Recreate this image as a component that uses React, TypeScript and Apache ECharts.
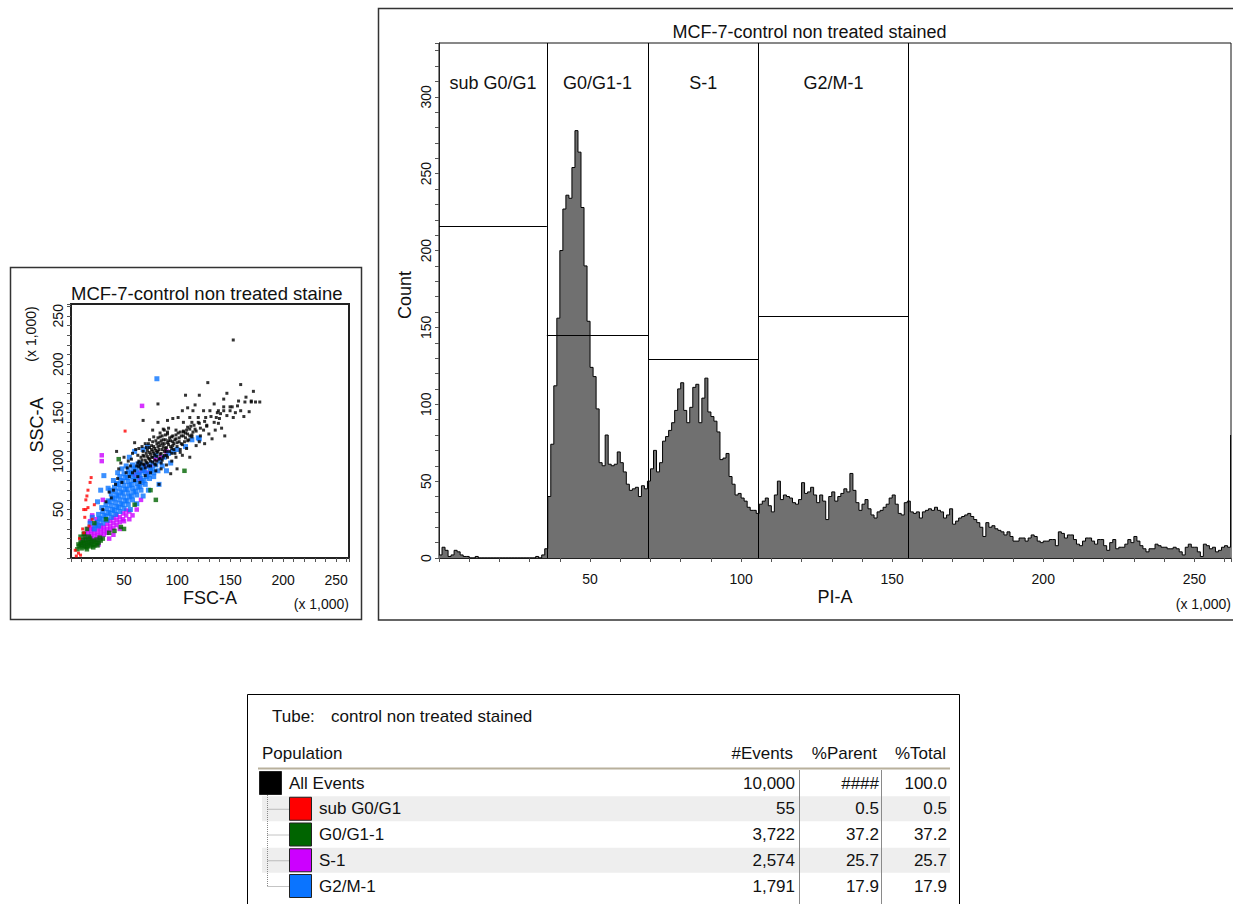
import React, { useEffect, useRef } from "react";
import * as echarts from "echarts";

// ---------- PI-A histogram (count per 1,000-unit bin, starting at 0) ----------
const BIN_WIDTH = 1;
const piCounts = [
  2, 7, 5, 1, 2, 5, 4, 2, 1, 1,
  0, 0, 1, 0, 0, 0, 0, 0, 0, 0,
  0, 0, 0, 0, 0, 0, 0, 0, 0, 0,
  0, 0, 1, 0, 2, 6, 40, 74, 112, 156,
  200, 227, 236, 234, 254, 278, 264, 228, 190, 154,
  124, 118, 97, 62, 60, 80, 61, 60, 61, 69,
  62, 56, 48, 44, 45, 46, 40, 47, 45, 50,
  58, 70, 56, 62, 76, 79, 83, 88, 96, 110,
  114, 96, 88, 98, 111, 113, 88, 104, 117, 95,
  92, 89, 82, 64, 65, 68, 53, 48, 41, 42,
  39, 37, 33, 31, 31, 29, 35, 37, 39, 34,
  30, 41, 50, 38, 41, 40, 39, 36, 35, 38,
  49, 42, 43, 46, 41, 36, 41, 37, 25, 40,
  43, 37, 40, 42, 45, 43, 55, 44, 36, 31,
  35, 38, 32, 28, 26, 30, 31, 33, 35, 39,
  41, 35, 29, 28, 36, 37, 30, 29, 30, 26,
  30, 31, 32, 31, 33, 31, 30, 26, 28, 32,
  22, 24, 26, 27, 28, 29, 27, 25, 23, 20,
  14, 23, 20, 21, 19, 18, 17, 15, 17, 14,
  11, 11, 13, 13, 11, 13, 15, 14, 11, 10,
  11, 11, 12, 12, 8, 17, 16, 13, 15, 15,
  12, 9, 8, 11, 13, 13, 11, 9, 12, 12,
  8, 5, 10, 12, 6, 7, 7, 9, 12, 10,
  14, 11, 8, 6, 4, 6, 6, 9, 8, 7,
  7, 6, 6, 7, 6, 4, 2, 7, 9, 7,
  7, 4, 1, 9, 8, 6, 7, 4, 5, 7,
  8, 7, 80,
];

// ---------- gates on PI-A ----------
const gateNames = ["sub G0/G1", "G0/G1-1", "S-1", "G2/M-1"];
const gateStart = [0, 35.7, 69.2, 105.8];
const gateEnd = [35.7, 69.2, 105.8, 155.4];
const gateLevel = [215.5, 145, 129.3, 157.3];

// ---------- population table ----------
const popNames = ["All Events", "sub G0/G1", "G0/G1-1", "S-1", "G2/M-1"];
const popColors = ["#000000", "#ff0000", "#006400", "#cc00ff", "#0a74ff"];
const popEvents = ["10,000", "55", "3,722", "2,574", "1,791"];
const popParent = ["####", "0.5", "37.2", "25.7", "17.9"];
const popTotal = ["100.0", "0.5", "37.2", "25.7", "17.9"];

// ---------- FSC-A / SSC-A dot plot (x 1,000) ----------
const sPts = [
  [10, 14], [10, 18], [13, 13], [13, 17], [13, 21], [13, 25], [16, 14], [16, 18], [16, 22], [16, 26],
  [16, 30], [19, 16], [19, 20], [19, 24], [19, 28], [19, 32], [22, 18], [22, 22], [22, 26], [25, 19],
  [25, 23], [25, 27], [25, 31], [28, 22], [28, 26], [28, 30], [28, 34], [31, 24], [31, 28], [31, 32],
  [34, 26], [34, 30], [34, 35], [37, 29], [37, 33], [37, 38], [40, 31], [40, 36], [40, 41], [43, 34],
  [43, 39], [43, 44], [46, 37], [46, 42], [49, 40], [49, 46], [52, 44], [52, 49], [55, 48],
  [67, 157], [29, 106], [29, 100], [60, 86], [65, 82], [72, 88], [75, 95], [68, 90], [58, 44], [62, 50],
  [50, 38], [36, 20], [40, 24], [26, 14], [55, 40], [70, 95], [64, 88], [30, 60], [24, 40], [18, 38],
  [20, 44], [85, 104], [90, 110], [80, 102], [66, 60], [46, 30], [21, 30], [24, 35],
];
const g2mPts = [
  [22, 30], [23, 34], [26, 33], [25, 37], [27, 41], [26, 45], [30, 36], [29, 40], [31, 44], [30, 48],
  [29, 52], [34, 39], [33, 43], [35, 47], [34, 51], [33, 55], [35, 59], [38, 42], [37, 46], [39, 50],
  [38, 54], [37, 58], [39, 62], [38, 66], [37, 70], [42, 45], [41, 49], [43, 53], [42, 57], [41, 61],
  [43, 65], [42, 69], [41, 73], [43, 77], [46, 48], [45, 52], [47, 56], [46, 60], [45, 64], [47, 68],
  [46, 72], [45, 76], [47, 80], [46, 84], [50, 51], [49, 55], [51, 59], [50, 63], [49, 67], [51, 71],
  [50, 75], [49, 79], [51, 83], [50, 87], [54, 55], [53, 59], [55, 63], [54, 67], [53, 71], [55, 75],
  [54, 79], [53, 83], [55, 87], [54, 91], [58, 60], [57, 64], [59, 68], [58, 72], [57, 76], [59, 80],
  [58, 84], [57, 88], [59, 92], [58, 96], [62, 65], [61, 69], [63, 73], [62, 77], [61, 81], [63, 85],
  [62, 89], [61, 93], [63, 97], [66, 70], [65, 74], [67, 78], [66, 82], [65, 86], [67, 90], [66, 94],
  [65, 98], [70, 76], [69, 80], [71, 84], [70, 88], [69, 92], [71, 96], [74, 82], [73, 86], [75, 90],
  [74, 94], [78, 88], [77, 92],
  [81, 185], [31, 85], [28, 70], [25, 58], [55, 104], [60, 110], [68, 112], [72, 115], [76, 98], [80, 96],
  [84, 100], [88, 104], [92, 108], [96, 110], [100, 112], [80, 106], [86, 95], [90, 90], [73, 70], [68, 64],
  [62, 56], [56, 50], [78, 84], [82, 90], [108, 115], [114, 122], [120, 124], [94, 98], [20, 42], [18, 36],
  [83, 76], [121, 123], [35, 72], [40, 80], [44, 88], [52, 95], [48, 92],
];
const allPts = [
  [153, 225], [129, 181], [160, 179], [172, 172], [147, 170], [108, 168], [121, 168], [164, 161], [174, 161], [178, 161],
  [82, 159], [135, 159], [144, 164], [144, 156], [150, 156], [157, 157], [163, 146], [145, 126], [133, 123], [117, 158],
  [115, 152], [125, 152], [131, 152], [139, 152], [150, 152], [141, 149], [137, 145], [127, 145], [120, 145], [112, 145],
  [105, 152], [110, 155], [101, 145], [96, 144], [91, 142], [82, 140], [106, 140], [114, 140], [121, 139], [128, 137],
  [139, 139], [110, 135], [117, 133], [125, 132], [106, 130], [99, 132], [91, 130], [87, 133], [77, 132], [114, 125],
  [121, 120], [118, 116], [109, 113], [112, 104], [103, 109], [99, 104], [68, 142], [43, 110], [94, 87], [83, 76],
  [153, 145], [160, 152], [170, 162], [142, 134], [130, 128], [122, 126], [136, 132], [126, 118], [100, 92],
  [62, 95], [64, 100], [66, 92], [66, 104], [68, 97], [68, 110], [70, 101], [70, 93], [71, 114], [72, 105],
  [72, 98], [73, 118], [74, 102], [74, 109], [75, 95], [76, 112], [76, 104], [77, 99], [77, 120], [78, 108],
  [78, 115], [79, 101], [80, 111], [80, 96], [81, 118], [81, 105], [82, 124], [82, 110], [83, 102], [84, 116],
  [84, 107], [85, 121], [85, 98], [86, 112], [86, 126], [87, 104], [88, 118], [88, 110], [89, 122], [90, 114],
  [90, 106], [91, 128], [92, 117], [93, 110], [94, 121], [95, 113], [96, 126], [97, 118], [98, 108], [99, 123],
  [100, 115], [101, 129], [102, 120], [104, 126], [105, 117], [106, 131], [108, 124], [110, 128], [112, 133], [114, 127],
  [116, 137], [118, 131], [120, 140], [122, 134], [126, 141], [128, 136], [132, 146], [135, 140], [138, 150], [140, 144],
  [144, 152], [147, 147], [152, 156], [155, 150], [158, 162], [165, 166], [168, 151], [170, 161],
  [69, 105], [71, 108], [73, 95], [75, 107], [77, 110], [79, 113], [79, 106], [81, 100], [83, 112], [83, 119],
  [85, 108], [87, 115], [87, 122], [89, 113], [91, 119], [93, 124], [95, 108], [97, 112], [66, 98], [64, 94],
  [60, 90], [63, 106], [67, 115], [70, 118], [74, 122], [78, 125], [84, 129], [88, 132], [92, 134], [96, 120],
  [103, 112], [107, 120], [111, 122], [115, 130],
  [63, 98], [65, 96], [67, 101], [69, 96], [71, 99], [73, 103], [75, 100], [77, 104], [79, 97], [81, 109],
  [82, 115], [84, 103], [86, 118], [88, 106], [90, 110], [92, 121], [94, 115], [96, 116], [98, 122], [100, 119],
  [102, 124], [104, 118], [106, 126], [108, 129], [110, 121], [112, 126], [76, 116], [80, 121], [84, 125], [89, 127],
  [72, 111], [68, 106], [74, 114], [86, 101], [91, 104], [95, 125], [99, 127], [103, 130], [109, 132], [113, 136],
  [58, 88], [60, 80], [56, 95], [63, 84], [54, 100], [52, 88], [50, 104], [48, 78], [45, 92], [47, 98],
  [40, 70], [36, 68], [65, 78], [70, 85], [75, 88], [80, 90], [85, 92], [90, 96], [95, 100], [105, 106],
  [60, 119], [64, 113], [58, 108], [55, 84], [53, 93], [57, 102], [61, 112], [44, 82], [38, 62], [33, 58],
  [30, 50], [42, 76],
];
const g0g1Pts = [
  [8, 12], [10, 10], [10, 14], [12, 12], [12, 16], [14, 11], [14, 15], [14, 19], [16, 13], [16, 17],
  [18, 12], [18, 16], [18, 20], [20, 14], [20, 18], [22, 13], [22, 17], [24, 15], [24, 19], [26, 16],
  [11, 18], [9, 16], [13, 22], [17, 22], [28, 18], [30, 20], [6, 9], [7, 14], [15, 9], [21, 11],
  [25, 13], [27, 21],
  [45, 102], [107, 90], [75, 70], [41, 28], [33, 40], [50, 30], [60, 55], [15, 30], [22, 36], [36, 26],
  [80, 60], [47, 32], [12, 25], [9, 22],
];
const subPts = [
  [5, 2], [7, 5], [4, 8], [9, 3], [14, 60], [15, 64], [16, 70], [18, 78], [19, 83], [14, 50],
  [12, 50], [16, 52], [13, 42], [17, 33], [51, 131], [20, 40], [11, 30], [12, 26], [8, 20], [22, 55],
];

const FF = "'Liberation Sans', Arial, Helvetica, sans-serif";
const AXIS_MAX = 262.144;

function txt(text: string, x: number, y: number, extra: any = {}, rotation = 0) {
  return {
    type: "text",
    x,
    y,
    rotation,
    silent: true,
    style: {
      text,
      fill: "#111",
      fontSize: 17,
      fontFamily: FF,
      align: "left",
      verticalAlign: "middle",
      ...extra,
    },
  };
}

function valueAxis(gridIndex: number, max: number, labelMargin: number, rotate: number) {
  return {
    type: "value",
    gridIndex,
    min: 0,
    max,
    interval: 10,
    axisLine: { show: true, lineStyle: { color: "#222", width: 1 } },
    axisTick: { show: true, length: 4, inside: false, lineStyle: { color: "#555", width: 1 } },
    axisLabel: {
      show: true,
      rotate,
      margin: labelMargin,
      color: "#111",
      fontSize: 14,
      fontFamily: FF,
      formatter: (v: number) => (v % 50 === 0 && (v > 0 || (gridIndex === 1 && rotate === 90)) ? String(v) : ""),
    },
    splitLine: { show: false },
  };
}

export default function App() {
  const ref = useRef<HTMLDivElement>(null);
  useEffect(() => {
    if (!ref.current) return;
    const chart = echarts.init(ref.current, null, { renderer: "svg" });

    const histData = piCounts.map((v, i) => [i * BIN_WIDTH, v]);

    const rowY = (i: number) => 783 + i * 25.75;
    const table: any[] = [];
    table.push({ type: "rect", silent: true, shape: { x: 247.5, y: 694.5, width: 712, height: 240 }, style: { fill: "#fff", stroke: "#000", lineWidth: 1 } });
    popNames.forEach((_, i) => {
      if (i % 2 === 1) {
        table.push({ type: "rect", silent: true, shape: { x: 262, y: rowY(i) - 12.5, width: 688, height: 25 }, style: { fill: "#eeeeee" } });
      }
    });
    table.push(txt("Tube:", 272, 716));
    table.push(txt("control non treated stained", 331, 716));
    table.push(txt("Population", 262, 753));
    table.push(txt("#Events", 793, 753, { align: "right" }));
    table.push(txt("%Parent", 877, 753, { align: "right" }));
    table.push(txt("%Total", 946, 753, { align: "right" }));
    table.push({ type: "line", silent: true, shape: { x1: 258, y1: 768.5, x2: 950, y2: 768.5 }, style: { stroke: "#b8b09c", lineWidth: 2 } });
    [799.5, 881.5].forEach((x) =>
      table.push({ type: "line", silent: true, shape: { x1: x, y1: 770, x2: x, y2: 904 }, style: { stroke: "#8a8a8a", lineWidth: 1 } })
    );
    table.push({ type: "line", silent: true, shape: { x1: 267.5, y1: 795, x2: 267.5, y2: rowY(popNames.length - 1) }, style: { stroke: "#888", lineWidth: 1, lineDash: [1, 1] } });
    popNames.forEach((name, i) => {
      const y = rowY(i);
      const sx = i === 0 ? 259 : 289;
      if (i > 0) {
        table.push({ type: "line", silent: true, shape: { x1: 267.5, y1: y + 0.5, x2: 289, y2: y + 0.5 }, style: { stroke: "#888", lineWidth: 1, lineDash: [1, 1] } });
      }
      table.push({ type: "rect", silent: true, shape: { x: sx + 0.5, y: y - 11.5, width: 22, height: 23 }, style: { fill: popColors[i], stroke: "#222", lineWidth: 1 } });
      table.push(txt(name, sx + 30, y));
      table.push(txt(popEvents[i], 795, y, { align: "right" }));
      table.push(txt(popParent[i], 879, y, { align: "right" }));
      table.push(txt(popTotal[i], 947, y, { align: "right" }));
    });

    const graphic: any[] = [
      // panel frames
      { type: "rect", silent: true, shape: { x: 10.5, y: 267.5, width: 351, height: 352 }, style: { fill: "none", stroke: "#333", lineWidth: 1.5 } },
      { type: "rect", silent: true, shape: { x: 378.5, y: 8.5, width: 900, height: 611.5 }, style: { fill: "none", stroke: "#333", lineWidth: 1.5 } },
      // titles
      txt("MCF-7-control non treated stained", 71, 293.5, { fontSize: 18.5, width: 279, overflow: "truncate", ellipsis: "" }),
      txt("MCF-7-control non treated stained", 809.5, 32, { fontSize: 18, align: "center" }),
      // axis names
      txt("FSC-A", 210, 598, { fontSize: 18, align: "center" }),
      txt("SSC-A", 37, 425, { fontSize: 18, align: "center" }, Math.PI / 2),
      txt("(x 1,000)", 31, 334, { fontSize: 14, align: "center" }, Math.PI / 2),
      txt("(x 1,000)", 349, 603.5, { fontSize: 14, align: "right" }),
      txt("PI-A", 835, 597, { fontSize: 18, align: "center" }),
      txt("Count", 405, 295, { fontSize: 18, align: "center" }, Math.PI / 2),
      txt("(x 1,000)", 1231, 603.5, { fontSize: 14, align: "right" }),
      ...table,
    ];

    const dot = (name: string, data: number[][], color: string, size: number) => ({
      name,
      type: "scatter",
      xAxisIndex: 0,
      yAxisIndex: 0,
      data,
      symbol: "rect",
      symbolSize: size,
      itemStyle: { color },
      silent: true,
    });

    chart.setOption({
      animation: false,
      backgroundColor: "#ffffff",
      textStyle: { fontFamily: FF },
      grid: [
        { left: 71, top: 304, width: 278, height: 254, show: true, borderColor: "#222", borderWidth: 2, backgroundColor: "transparent", outerBoundsMode: "none" },
        { left: 439, top: 43, width: 792, height: 515, show: true, borderColor: "#111", borderWidth: 1, backgroundColor: "transparent", outerBoundsMode: "none" },
      ],
      xAxis: [valueAxis(0, AXIS_MAX, 15, 0), valueAxis(1, AXIS_MAX, 14, 0)],
      yAxis: [valueAxis(0, AXIS_MAX, 6, 90), valueAxis(1, 335, 6, 90)],
      graphic,
      series: [
        dot("S-1", sPts, popColors[3], 4.5),
        dot("G2/M-1", g2mPts, popColors[4], 5),
        dot("All Events", allPts, popColors[0], 3),
        dot("G0/G1-1", g0g1Pts, popColors[2], 4.5),
        dot("sub G0/G1", subPts, popColors[1], 3),
        {
          name: "PI-A",
          type: "line",
          xAxisIndex: 1,
          yAxisIndex: 1,
          data: histData,
          step: "end",
          showSymbol: false,
          symbol: "none",
          silent: true,
          lineStyle: { color: "#000", width: 1 },
          areaStyle: { color: "#707070", opacity: 1 },
          markLine: {
            silent: true,
            symbol: ["none", "none"],
            label: { show: false },
            lineStyle: { color: "#000", width: 1, type: "solid" },
            data: [
              ...gateEnd.map((x) => ({ xAxis: x })),
              ...gateNames.map((_, i) => [
                { coord: [gateStart[i], gateLevel[i]] },
                { coord: [gateEnd[i], gateLevel[i]] },
              ]),
            ],
          },
          markArea: {
            silent: true,
            itemStyle: { color: "rgba(0,0,0,0)" },
            label: { show: true, position: "insideTop", distance: 31, fontSize: 18, color: "#111", fontFamily: FF },
            data: gateNames.map((n, i) => [{ name: n, xAxis: gateStart[i] }, { xAxis: gateEnd[i] }]),
          },
        },
      ],
    });

    return () => chart.dispose();
  }, []);

  return (
    <div
      ref={ref}
      style={{ position: "absolute", left: 0, top: 0, width: 1233, height: 904, background: "#fff" }}
    />
  );
}
